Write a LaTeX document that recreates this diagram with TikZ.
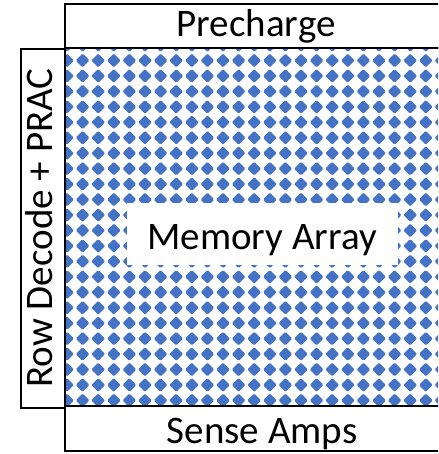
\documentclass[tikz,border=0pt]{standalone}
\usepackage{fontspec}
\setmainfont{Carlito}
\definecolor{cellblue}{RGB}{68,114,196}
\tikzset{
  blk/.style={draw=black,line width=2.4pt,rectangle,inner sep=0pt,outer sep=0pt},
  lbl/.style={font=\fontsize{39}{39}\selectfont,inner sep=0pt,text=black},
  cell/.style={fill=cellblue,rounded corners=1.2pt}
}
\begin{document}
\begin{tikzpicture}[x=1pt,y=-1pt]
\useasboundingbox (0,0) rectangle (438,454);
\clip (0,0) rectangle (438,454);
% diamond pattern of the memory array
\begin{scope}
  \clip (65,48) rectangle (450,406);
  \foreach \i in {0,...,25}{
    \foreach \j in {-1,...,23}{
      \fill[cell] ({67+15.6*\i},{60.5+15.45*\j}) +(-6.9,0) -- +(0,-6.9) -- +(6.9,0) -- +(0,6.9) -- cycle;
    }
  }
\end{scope}
% white label area
\node[fill=white,minimum width=271pt,minimum height=62pt,inner sep=0pt] (lblbg) at (262.5,234) {};
% boxes
\node[blk,minimum width=382pt,minimum height=44pt] (pre) at (256,26) {};
\node[blk,minimum width=382pt,minimum height=358pt] (arr) at (256,227) {};
\node[blk,minimum width=44pt,minimum height=359pt] (row) at (43,228.5) {};
\node[blk,minimum width=382pt,minimum height=45pt] (sa) at (256,428.5) {};
% labels
\node[lbl,anchor=base] (pretxt) at (256,37) {Precharge};
\node[lbl,anchor=base] (memtxt) at (262,249) {Memory Array};
\node[lbl,anchor=base] (satxt) at (262,443) {Sense Amps};
\node[lbl,anchor=base,rotate=90] (rowtxt) at (52,228) {Row Decode + PRAC};
\end{tikzpicture}
\end{document}
